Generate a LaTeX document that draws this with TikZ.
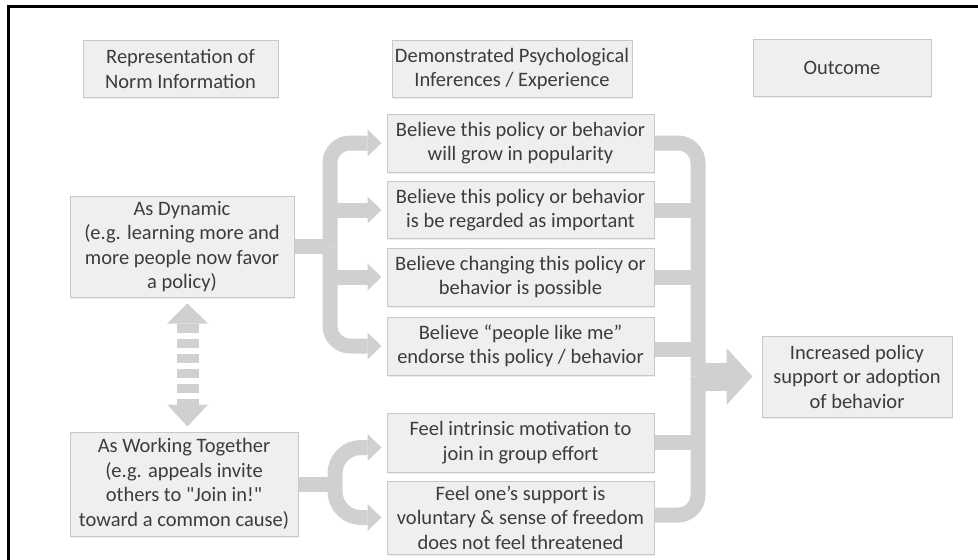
\documentclass[tikz,border=0pt]{standalone}
\usepackage{fontspec}
\setmainfont{Carlito}[Ligatures=TeXOff]
\usetikzlibrary{arrows.meta,calc,shadows}
\definecolor{boxfill}{HTML}{EFEFEF}
\definecolor{boxline}{HTML}{C8C8C8}
\definecolor{conncol}{HTML}{D0D0D0}
\definecolor{txtcol}{HTML}{3C3C3C}
\begin{document}
\begin{tikzpicture}[x=1pt,y=-1pt,
  box/.style={draw=boxline, line width=1pt, fill=boxfill, text=txtcol, align=center,
    inner sep=0pt, font=\fontsize{20.5}{24.5}\selectfont,
    drop shadow={shadow xshift=1.2pt, shadow yshift=-1.5pt, fill=black, opacity=0.07}},
  conn/.style={draw=conncol, line width=15pt},
  tip/.style={-{Triangle[length=14pt,width=27pt,line width=0pt]}, shorten >=5pt},
  bigtip/.style={-{Triangle[length=26pt,width=57pt,line width=0pt]}, shorten >=9pt},
  frame/.style={draw=black, line width=3pt},
]
\useasboundingbox (0,0) rectangle (978,560);
% outer frame
\draw[frame] (8,560) -- (8,6) -- (978,6);

% header boxes
\node[box, minimum width=195pt, minimum height=57pt] (h1) at (180.5,69) {Representation of\\Norm Information};
\node[box, minimum width=240pt, minimum height=57pt] (h2) at (512,69) {Demonstrated Psychological\\Inferences / Experience};
\node[box, minimum width=178pt, minimum height=57pt] (h3) at (842,67.5) {Outcome};

% middle boxes
\node[box, minimum width=267pt, minimum height=58pt] (A) at (520.5,143) {Believe this policy or behavior\\will grow in popularity};
\node[box, minimum width=267pt, minimum height=57pt] (B) at (520.5,210) {Believe this policy or behavior\\is be regarded as important};
\node[box, minimum width=267pt, minimum height=58pt] (C) at (520.5,277) {Believe changing this policy or\\behavior is possible};
\node[box, minimum width=267pt, minimum height=58pt] (D) at (520.5,346) {Believe “people like me”\\endorse this policy / behavior};
\node[box, minimum width=267pt, minimum height=59pt] (E) at (520.5,442.5) {Feel intrinsic motivation to\\join in group effort};
\node[box, minimum width=267pt, minimum height=73pt] (F) at (520.5,517.5) {Feel one’s support is\\voluntary \& sense of freedom\\does not feel threatened};

% left boxes
\node[box, minimum width=224pt, minimum height=101pt] (Dyn) at (182,246.5) {As Dynamic\\(e.g. learning more and\\more people now favor\\a policy)};
\node[box, minimum width=228pt, minimum height=104pt] (Work) at (184,484) {As Working Together\\(e.g. appeals invite\\others to "Join in!"\\toward a common cause)};

% outcome box
\node[box, minimum width=190pt, minimum height=81pt] (Out) at (857,376.5) {Increased policy\\support or adoption\\of behavior};

% junction coordinates
\coordinate (tl) at (330,246.5);
\coordinate (tw) at (335,484);
\coordinate (tr) at (698,376.5);

% dynamic branch
\draw[conn] (Dyn.east) -- (tl);
\draw[conn, tip, rounded corners=20pt] (tl) |- (A.west);
\draw[conn, tip] (tl |- B.west) -- (B.west);
\draw[conn, tip] (tl |- C.west) -- (C.west);
\draw[conn, tip, rounded corners=20pt] (tl) |- (D.west);

% working together branch
\draw[conn] (Work.east) -- (tw);
\draw[conn, tip, rounded corners=26pt] (tw) |- ($(E.west)+(0,5)$);
\draw[conn, tip, rounded corners=26pt] (tw) |- (F.west);

% right collector
\draw[conn, rounded corners=20pt] (A.east) -| (tr);
\draw[conn, rounded corners=20pt] ($(F.east)+(0,-2.5)$) -| (tr);
\draw[conn] (B.east) -- (B.east -| tr);
\draw[conn] (C.east) -- (C.east -| tr);
\draw[conn] ($(D.east)+(0,3)$) -- ($(D.east -| tr)+(0,3)$);
\draw[conn] (E.east) -- (E.east -| tr);
\draw[conn, line width=28pt, bigtip] (tr) -- (Out.west);

% dashed double arrow
\draw[draw=conncol, line width=22pt, dash pattern=on 9pt off 6pt,
  {Triangle[length=20pt,width=41pt,line width=0pt]}-{Triangle[length=22pt,width=41pt,line width=0pt]},
  shorten <=6pt, shorten >=5pt]
  ([xshift=5.5pt]Dyn.south) -- ([xshift=3.5pt]Work.north);
\end{tikzpicture}
\end{document}
